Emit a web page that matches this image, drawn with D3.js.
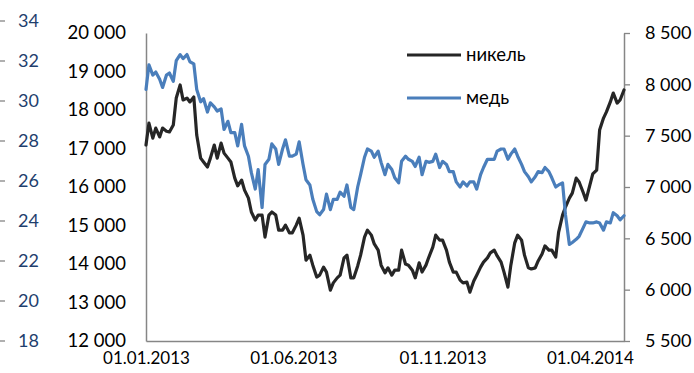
<!DOCTYPE html>
<html>
<head>
<meta charset="utf-8">
<script src="https://cdn.jsdelivr.net/npm/d3@7"></script>
<style>
  body { margin: 0; background: #fff; }
  text { font-family: Lato, "Open Sans", sans-serif; }
</style>
</head>
<body>
<svg id="chart" width="694" height="373"></svg>
<script>
// LME prices sampled twice a week (Tuesday and Friday) from 01.01.2013
const startDate = "2013-01-01";

// никель, USD/t (left axis)
const nickel = [
  17090, 17660, 17270, 17530, 17300, 17530, 17450, 17430, 17610, 18310,
  18650, 18260, 18310, 18210, 18340, 17350, 16750, 16650, 16520,
  16750, 17090, 16750, 17140, 16880, 16750, 16650, 16230, 16030, 16180,
  15920, 15710, 15350, 15140, 15270, 15270, 14700, 15270, 15350, 15270,
  14880, 14880, 15010, 14810, 14810, 15010, 15190, 14750, 14100, 14230,
  13970, 13660, 13710, 13920, 13790, 13320, 13510, 13640, 13710, 14160,
  14230, 13640, 13640, 13950, 14230, 14700, 14880, 14750, 14520, 14360,
  13970, 13770, 13900, 13710, 13840, 13840, 14360, 14000, 13970, 13840,
  13640, 14030, 13790, 13970, 14180, 14440, 14750, 14620, 14620, 14360,
  14050, 13790, 13790, 13580, 13510, 13530, 13270, 13560, 13710, 13920,
  14050, 14160, 14290, 14360, 14210, 14050, 13790, 13400, 13970,
  14550, 14750, 14620, 14230, 13900, 13870, 13900, 14080, 14260, 14470,
  14360, 14360, 14180, 14830, 15270, 15480, 15710, 15840, 16230, 16130,
  15870, 15660, 16050, 16340, 16440, 17480, 17790, 17950, 18210, 18440,
  18180, 18260, 18520
];

// медь, USD/t (right axis)
const copper = [
  7950, 8190, 8090, 8120, 8050, 7970, 8090, 8110, 8030, 8230,
  8290, 8250, 8290, 8220, 8200, 7950, 7830, 7860, 7730,
  7820, 7780, 7740, 7760, 7560, 7640, 7530, 7530, 7400, 7610,
  7400, 7300, 7140, 6980, 7170, 6800, 7220, 7270, 7420, 7370,
  7220, 7370, 7460, 7300, 7300, 7320, 7440, 7220, 7070, 7020,
  6880, 6760, 6730, 6780, 6930, 6780, 6880, 6880, 6950, 6910,
  7020, 6800, 6780, 7000, 7120, 7290, 7370, 7350, 7290, 7350,
  7240, 7120, 7220, 7170, 7090, 7040, 7250, 7300, 7270, 7250,
  7200, 7290, 7120, 7250, 7240, 7250, 7320, 7190, 7250, 7220,
  7150, 7150, 7050, 7000, 7050, 7010, 7050, 7050, 6980, 7120,
  7190, 7270, 7270, 7270, 7350, 7370, 7370, 7270, 7320,
  7370, 7300, 7220, 7150, 7100, 7050, 7100, 7150, 7140, 7190,
  7150, 7090, 7000, 7020, 7040, 6730, 6440, 6460, 6490, 6520,
  6600, 6660, 6650, 6650, 6660, 6650, 6580, 6660, 6650, 6750,
  6720, 6680, 6720
];

const seriesNames = ["никель", "медь"];
const xTickDates = ["2013-01-01", "2013-06-01", "2013-11-01", "2014-04-01"];
const nickelTicks = [12000, 13000, 14000, 15000, 16000, 17000, 18000, 19000, 20000];
const copperTicks = [5500, 6000, 6500, 7000, 7500, 8000, 8500];
const outerTicks = [18, 20, 22, 24, 26, 28, 30, 32, 34];

const parse = d3.timeParse("%Y-%m-%d");
const t0 = parse(startDate);
// Tuesday, Friday, Tuesday, ... (01.01.2013 is a Tuesday)
const dates = nickel.map((_, i) => d3.timeDay.offset(t0, 7 * Math.floor(i / 2) + 3 * (i % 2)));

const svg = d3.select("#chart");
const axisColor = "#868686";
const plot = { left: 146, right: 624, top: 33, bottom: 341 };

const x = d3.scaleTime().domain(d3.extent(dates)).range([plot.left, plot.right]);
const yL = d3.scaleLinear().domain([12000, 20000]).range([plot.bottom, plot.top]);
const yR = d3.scaleLinear().domain([5500, 8500]).range([plot.bottom, plot.top]);
const yO = d3.scaleLinear().domain([18, 34]).range([341, 21]);

const ru = d3.formatLocale({ decimal: ",", thousands: " ", grouping: [3], currency: ["", ""] });
const fmt = ru.format(",");

// outer scale at the far left edge
const gO = svg.append("g");
gO.selectAll("line").data(outerTicks).join("line")
  .attr("x1", 0).attr("x2", 5)
  .attr("y1", d => yO(d)).attr("y2", d => yO(d))
  .attr("stroke", axisColor).attr("stroke-width", 1.3);
gO.selectAll("text").data(outerTicks).join("text")
  .attr("x", 39).attr("y", d => yO(d)).attr("dy", "0.35em")
  .attr("text-anchor", "end").attr("fill", "#1F3F6E")
  .style("font-size", "18px").text(d => d);

// left axis (nickel)
const gL = svg.append("g").attr("transform", `translate(${plot.left},0)`)
  .call(d3.axisLeft(yL).tickValues(nickelTicks).tickFormat(fmt).tickSize(0).tickSizeOuter(0).tickPadding(20));
gL.select(".domain").attr("stroke", axisColor).attr("stroke-width", 1.5);
gL.selectAll("text").style("font-size", "18.5px").attr("fill", "#000");

// right axis (copper)
const gR = svg.append("g").attr("transform", `translate(${plot.right},0)`)
  .call(d3.axisRight(yR).tickValues(copperTicks).tickFormat(fmt).tickSize(6).tickSizeOuter(0).tickPadding(15));
gR.select(".domain").attr("stroke", axisColor).attr("stroke-width", 1.5);
gR.selectAll(".tick line").attr("stroke", axisColor).attr("stroke-width", 1.3);
gR.selectAll("text").style("font-size", "18px").attr("fill", "#000");

// bottom axis
const gB = svg.append("g").attr("transform", `translate(0,${plot.bottom})`)
  .call(d3.axisBottom(x).tickValues(xTickDates.map(parse)).tickFormat(d3.timeFormat("%d.%m.%Y")).tickSize(0).tickSizeOuter(0));
gB.select(".domain").attr("stroke", axisColor).attr("stroke-width", 1.5);
gB.selectAll("text").attr("y", 17).attr("dy", "0.35em").style("font-size", "17px").attr("fill", "#000");

// series lines: nickel first, copper drawn over it
const lineN = d3.line().x((d, i) => x(dates[i])).y(d => yL(d));
const lineC = d3.line().x((d, i) => x(dates[i])).y(d => yR(d));
const colors = ["#262626", "#4A7EBB"];

svg.append("path").datum(nickel).attr("d", lineN)
  .attr("fill", "none").attr("stroke", colors[0]).attr("stroke-width", 3.2)
  .attr("stroke-linejoin", "round").attr("stroke-linecap", "round");
svg.append("path").datum(copper).attr("d", lineC)
  .attr("fill", "none").attr("stroke", colors[1]).attr("stroke-width", 3.2)
  .attr("stroke-linejoin", "round").attr("stroke-linecap", "round");

// legend
const legendY = [55, 98];
const lg = svg.append("g");
seriesNames.forEach((name, i) => {
  lg.append("line").attr("x1", 407).attr("x2", 461)
    .attr("y1", legendY[i]).attr("y2", legendY[i])
    .attr("stroke", colors[i]).attr("stroke-width", 3.2);
  lg.append("text").attr("x", 466).attr("y", legendY[i]).attr("dy", "0.35em")
    .style("font-size", "18.5px").attr("fill", "#000").text(name);
});
</script>
</body>
</html>
